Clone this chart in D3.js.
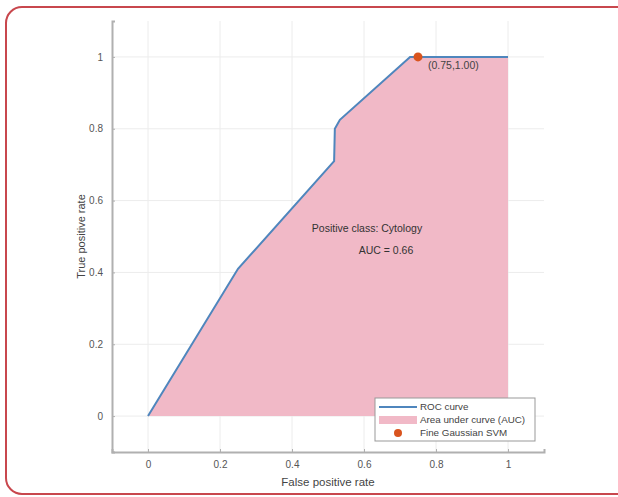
<!DOCTYPE html>
<html><head><meta charset="utf-8">
<script src="https://cdn.jsdelivr.net/npm/d3@7"></script>
<style>body{margin:0;background:#fff;font-family:"Liberation Sans",Arial,sans-serif}</style>
</head><body>
<svg id="c" width="618" height="497"></svg>
<script>
const fpr = [0, 0.25, 0.517, 0.519, 0.533, 0.728, 0.75, 1];
const tpr = [0, 0.41, 0.71, 0.80, 0.825, 1, 1, 1];
const xTicks = [0, 0.2, 0.4, 0.6, 0.8, 1];
const yTicks = [0, 0.2, 0.4, 0.6, 0.8, 1];
const opPoint = {x: 0.75, y: 1.00, label: "(0.75,1.00)"};
const legendItems = ["ROC curve", "Area under curve (AUC)", "Fine Gaussian SVM"];
const annotations = ["Positive class: Cytology", "AUC = 0.66"];

const svg = d3.select("#c");
svg.append("rect").attr("x",6).attr("y",7).attr("width",626).attr("height",487)
  .attr("rx",16).attr("fill","none").attr("stroke","#c8474d").attr("stroke-width",2);

const x = d3.scaleLinear().domain([-0.1,1.1]).range([112,544]);
const y = d3.scaleLinear().domain([-0.1,1.1]).range([452,21]);
const g = svg.append("g");
const axisCol = "#b0b0b0", txtCol = "#555";

// grid
g.selectAll(".gx").data(xTicks).enter().append("line")
  .attr("x1",d=>x(d)).attr("x2",d=>x(d)).attr("y1",y(-0.1)).attr("y2",y(1.1))
  .attr("stroke","#ececec").attr("stroke-width",1);
g.selectAll(".gy").data(yTicks).enter().append("line")
  .attr("y1",d=>y(d)).attr("y2",d=>y(d)).attr("x1",x(-0.1)).attr("x2",x(1.1))
  .attr("stroke","#ececec").attr("stroke-width",1);

const pts = fpr.map((f,i)=>[f,tpr[i]]);
// area
g.append("path").datum(pts)
  .attr("d", d3.area().x(d=>x(d[0])).y0(y(0)).y1(d=>y(d[1])))
  .attr("fill","#f1b9c7");
// line
g.append("path").datum(pts)
  .attr("d", d3.line().x(d=>x(d[0])).y(d=>y(d[1])))
  .attr("fill","none").attr("stroke","#4f86bd").attr("stroke-width",2);
// point
g.append("circle").attr("cx",x(opPoint.x)).attr("cy",y(opPoint.y)).attr("r",4.5).attr("fill","#d9541e");
g.append("text").attr("x",x(opPoint.x)+10).attr("y",y(opPoint.y)+12)
  .attr("font-size",10.5).attr("fill","#444").text(opPoint.label);

// axes
const xa = g.append("g").attr("transform",`translate(0,${y(-0.1)})`)
  .call(d3.axisBottom(x).tickValues(xTicks).tickSize(-3).tickPadding(9).tickFormat(d3.format("~g")));
const ya = g.append("g").attr("transform",`translate(${x(-0.1)},0)`)
  .call(d3.axisLeft(y).tickValues(yTicks).tickSize(-3).tickPadding(9).tickFormat(d3.format("~g")));
[xa,ya].forEach(a=>{
  a.select(".domain").attr("stroke",axisCol).attr("stroke-width",2);
  a.selectAll(".tick line").attr("stroke",axisCol);
  a.selectAll("text").attr("fill",txtCol).attr("font-size",10).attr("font-family","Liberation Sans, Arial, sans-serif");
});

svg.append("text").attr("x",328).attr("y",486).attr("text-anchor","middle")
  .attr("font-size",11.5).attr("fill","#444").text("False positive rate");
svg.append("text").attr("transform",`translate(85,${y(0.5)}) rotate(-90)`).attr("text-anchor","middle")
  .attr("font-size",11).attr("fill","#444").text("True positive rate");

// annotations
svg.append("text").attr("x",367).attr("y",232).attr("text-anchor","middle")
  .attr("font-size",10.5).attr("fill","#333").text(annotations[0]);
svg.append("text").attr("x",386).attr("y",254).attr("text-anchor","middle")
  .attr("font-size",10.5).attr("fill","#333").text(annotations[1]);

// legend
const lg = svg.append("g").attr("transform","translate(375,398)");
lg.append("rect").attr("width",160).attr("height",43).attr("fill","#fff").attr("stroke","#999").attr("stroke-width",1);
lg.append("line").attr("x1",4).attr("x2",42).attr("y1",9).attr("y2",9).attr("stroke","#4f86bd").attr("stroke-width",2);
lg.append("rect").attr("x",4).attr("y",18).attr("width",38).attr("height",8).attr("fill","#f1b9c7");
lg.append("circle").attr("cx",23).attr("cy",35).attr("r",4).attr("fill","#d9541e");
legendItems.forEach((t,i)=>{
  lg.append("text").attr("x",45).attr("y",12+i*13).attr("font-size",9.8).attr("fill","#444").text(t);
});
</script>
</body></html>
